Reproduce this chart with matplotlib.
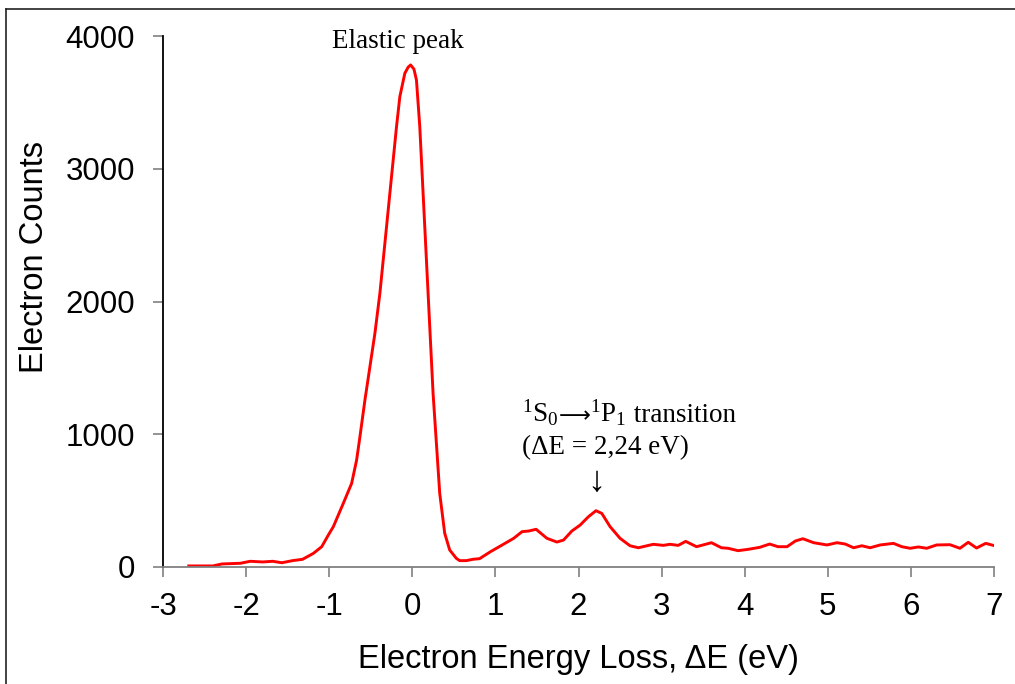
import matplotlib
matplotlib.use('Agg')
import matplotlib.pyplot as plt
from matplotlib.lines import Line2D
from matplotlib.offsetbox import TextArea, HPacker, AnnotationBbox

# energy loss (eV) and electron counts
energy = [-2.69, -2.40, -2.29, -2.07, -1.95, -1.80, -1.68, -1.57, -1.44, -1.32,
          -1.19, -1.09, -1.01, -0.95, -0.83, -0.73, -0.67, -0.63, -0.57, -0.51,
          -0.45, -0.39, -0.35, -0.31, -0.27, -0.23, -0.19, -0.15, -0.09, -0.05,
          -0.02, 0.02, 0.05, 0.09, 0.13, 0.17, 0.21, 0.25, 0.29, 0.33,
          0.39, 0.45, 0.53, 0.57, 0.65, 0.73, 0.81,
          0.94, 1.06, 1.22, 1.32, 1.40, 1.49, 1.62, 1.74, 1.82, 1.92,
          2.02, 2.12, 2.21, 2.28, 2.38, 2.50, 2.62, 2.72, 2.90, 3.02,
          3.10, 3.20, 3.29, 3.42, 3.60, 3.72, 3.80, 3.92, 4.04, 4.18,
          4.30, 4.40, 4.51, 4.61, 4.70, 4.83, 4.99, 5.11, 5.21, 5.31,
          5.41, 5.51, 5.63, 5.79, 5.89, 5.99, 6.09, 6.19, 6.31, 6.47,
          6.59, 6.69, 6.79, 6.90, 7.01]
counts = [8, 8, 23, 28, 43, 38, 43, 32, 48, 58,
          103, 153, 241, 304, 480, 630, 806, 982, 1258, 1509,
          1760, 2062, 2313, 2563, 2815, 3066, 3317, 3543, 3719, 3765,
          3782, 3750, 3668, 3317, 2815, 2313, 1810, 1308, 932, 555,
          254, 128, 65, 48, 48, 58, 63,
          115, 158, 216, 266, 271, 284, 216, 188, 203, 271,
          316, 379, 424, 404, 304, 216, 160, 145, 171, 163,
          171, 163, 193, 153, 183, 145, 141, 123, 133, 148,
          173, 153, 153, 196, 213, 183, 166, 183, 173, 145,
          160, 145, 166, 178, 153, 141, 151, 141, 166, 168,
          141, 186, 143, 178, 160]

xticks = [-3, -2, -1, 0, 1, 2, 3, 4, 5, 6, 7]
yticks = [0, 1000, 2000, 3000, 4000]

plt.rcParams['font.family'] = ['Liberation Sans', 'DejaVu Sans']
plt.rcParams['axes.unicode_minus'] = False
plt.rcParams['mathtext.fontset'] = 'custom'
plt.rcParams['mathtext.rm'] = 'Liberation Serif'
plt.rcParams['mathtext.it'] = 'Liberation Serif:italic'

fig = plt.figure(figsize=(10.15, 6.84), dpi=100)
ax = fig.add_axes([163 / 1015, 1 - 567 / 684, (994 - 163) / 1015, (567 - 36) / 684])

ax.plot(energy, counts, color='#ff0000', lw=2.1)

ax.set_xlim(-3, 7)
ax.set_ylim(0, 4000)
ax.set_xticks(xticks)
ax.set_yticks(yticks)
ax.tick_params(labelsize=22.5, length=7, width=1.2, color='#808080', direction='out')
ax.tick_params(axis='x', pad=11)
ax.tick_params(axis='y', pad=13)
for s in ['top', 'right']:
    ax.spines[s].set_visible(False)
ax.spines['left'].set_color('black')
ax.spines['left'].set_linewidth(1.3)
ax.spines['bottom'].set_color('#808080')
ax.spines['bottom'].set_linewidth(1.3)

ax.set_xlabel('Electron Energy Loss, ΔE (eV)', fontsize=23.5, labelpad=16)
ax.set_ylabel('Electron Counts', fontsize=23.5)
# label sits above the middle of the axis in the original
ax.yaxis.set_label_coords(-0.136, 0.584)

serif = ['Liberation Serif', 'DejaVu Serif']
ax.text(-0.17, 3955, 'Elastic peak', family=serif, fontsize=19.5,
        ha='center', va='center')

# transition label: pieces packed side by side so the long arrow can
# come from DejaVu Sans
tprops = dict(family=serif, fontsize=19.5)
parts = [TextArea('$^1$S$_0$', textprops=tprops),
         TextArea('\u27f6', textprops=dict(family='DejaVu Sans', fontsize=16)),
         TextArea('$^1$P$_1$', textprops=tprops),
         TextArea(' transition', textprops=tprops)]
row = HPacker(children=parts, align='baseline', pad=0, sep=0)
ax.add_artist(AnnotationBbox(row, (1.32, 1160), box_alignment=(0, 0.5),
                             frameon=False, pad=0))

ax.text(1.32, 900, '(ΔE = 2,24 eV)', family=serif, fontsize=19.5,
        ha='left', va='center')
ax.text(2.21, 640, '↓', family=serif, fontsize=26, ha='center', va='center')

# outer frame of the figure: only the left and top edges show
fx, fy = 5.5 / 1015, 1 - 8.5 / 684
fig.lines.append(Line2D([fx, fx], [0, fy], transform=fig.transFigure,
                        color='#222222', lw=1.2))
fig.lines.append(Line2D([fx, 1], [fy, fy], transform=fig.transFigure,
                        color='#222222', lw=1.2))

fig.savefig('out.png', dpi=100)
